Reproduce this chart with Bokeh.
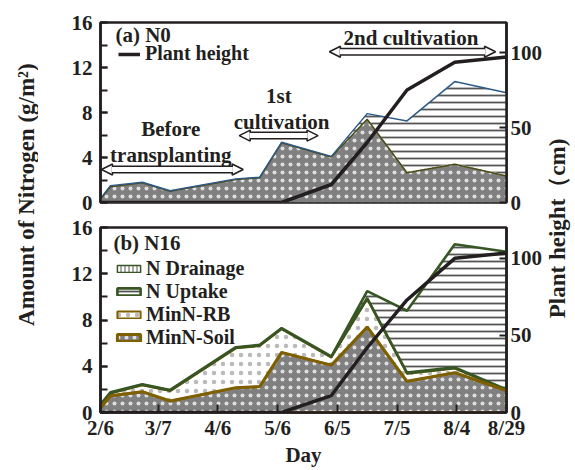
import numpy as np
from math import pi
from bokeh.plotting import figure
from bokeh.layouts import row, column
from bokeh.models import (Range1d, LinearAxis, FixedTicker, SingleIntervalTicker, Label,
                          Legend, LegendItem, Arrow, NormalHead)
from bokeh.embed import file_html
from bokeh.resources import INLINE

# ---------------- data ----------------
days = [0, 5, 21, 35, 68, 80, 91, 116, 134, 154, 178, 204]
tick_days = [0, 29, 59, 89, 119, 149, 179, 204]
tick_labels = ["2/6", "3/7", "4/6", "5/6", "6/5", "7/5", "8/4", "8/29"]
height_ticks = [0, 50, 100]

# (a) N0  (g/m2)
soil_a = [0.3, 1.4, 1.75, 1.0, 2.05, 2.2, 5.3, 4.05, 7.4, 2.65, 3.4, 2.35]
rb_a = [0, 0, 0, 0, 0, 0, 0, 0, 0, 0, 0, 0]
drain_a = [0.05, 0.1, 0.05, 0.05, 0.05, 0.05, 0.05, 0.05, 0.1, 0.1, 0.1, 0.1]
uptake_a = [0, 0, 0, 0, 0, 0, 0, 0, 0.4, 4.5, 7.25, 7.3]
height_a = [0, 0, 0, 0, 0, 0, 0, 12, 40, 75, 93.5, 97]

# (b) N16  (g/m2)
soil_b = [0.4, 1.45, 1.8, 1.0, 2.15, 2.25, 5.2, 4.1, 7.4, 2.7, 3.45, 1.9]
rb_b = [0.25, 0.2, 0.55, 0.85, 3.4, 3.5, 2.0, 0.65, 2.4, 0.65, 0.35, 0.05]
drain_b = [0.05, 0.1, 0.1, 0.1, 0.1, 0.1, 0.1, 0.1, 0.1, 0.1, 0.1, 0.05]
uptake_b = [0, 0, 0, 0, 0, 0, 0, 0, 0.6, 5.35, 10.65, 11.9]
height_b = [0, 0, 0, 0, 0, 0, 0, 11, 42, 73, 100, 103.5]

FONT = "Liberation Serif"
INK = "#231f20"
GREEN = "#375623"
BROWN = "#7f6000"
GRAY = "#808080"
HATCH = "#555555"

SOIL_HATCH = dict(fill_color=GRAY, hatch_pattern="dot", hatch_color="white",
                  hatch_scale=8, hatch_weight=0.5, hatch_alpha=0.75)
RB_HATCH = dict(fill_color="white", hatch_pattern="dot", hatch_color="#666666",
                hatch_scale=9, hatch_weight=0.5, hatch_alpha=0.45)
DR_HATCH = dict(fill_color="white", hatch_pattern="vertical_line",
                hatch_color=HATCH, hatch_scale=4, hatch_weight=1)
UP_HATCH = dict(fill_color="white", hatch_pattern="horizontal_line",
                hatch_color=HATCH, hatch_scale=7, hatch_weight=1.8)


def stack(*layers):
    out = [np.zeros(len(days))]
    for l in layers:
        out.append(out[-1] + np.array(l, dtype=float))
    return out


def style_axis(ax, standoff):
    ax.axis_line_width = 2.5
    ax.axis_line_color = INK
    ax.major_tick_out = 0
    ax.major_tick_line_width = 2
    ax.major_tick_line_color = INK
    ax.major_label_standoff = standoff
    ax.major_label_text_font = FONT
    ax.major_label_text_font_style = "bold"
    ax.major_label_text_font_size = "21px"
    ax.major_label_text_color = INK


def base_fig(h, mbt, mbb, show_x):
    p = figure(width=507, height=h, x_range=Range1d(0, 204), y_range=Range1d(0, 16),
               toolbar_location=None, output_backend="svg",
               min_border_left=62, min_border_right=38, min_border_top=mbt,
               min_border_bottom=mbb)
    p.grid.visible = False
    p.outline_line_color = INK
    p.outline_line_width = 2.5
    p.extra_y_ranges = {"h": Range1d(0, 120)}

    ya = p.yaxis[0]
    ya.ticker = SingleIntervalTicker(interval=4, num_minor_ticks=2)
    style_axis(ya, 8)
    ya.major_tick_in = 7
    ya.minor_tick_in = 7
    ya.minor_tick_out = 0
    ya.minor_tick_line_width = 2
    ya.minor_tick_line_color = INK

    xa = p.xaxis[0]
    if show_x:
        xa.ticker = FixedTicker(ticks=tick_days, minor_ticks=[])
        xa.major_label_overrides = {d: l for d, l in zip(tick_days, tick_labels)}
        style_axis(xa, 3)
        xa.major_tick_in = 8
        xa.axis_label = "Day"
        xa.axis_label_standoff = 0
        xa.axis_label_text_font = FONT
        xa.axis_label_text_font_style = "bold"
        xa.axis_label_text_font_size = "21px"
        xa.axis_label_text_color = INK
    else:
        xa.visible = False
        # inward tick marks on the bottom edge of the upper panel
        p.segment(x0=tick_days, y0=[0] * len(tick_days), x1=tick_days,
                  y1=[0.7] * len(tick_days), line_color=INK, line_width=2)

    ra = LinearAxis(y_range_name="h", ticker=FixedTicker(ticks=height_ticks, minor_ticks=[]))
    style_axis(ra, 4)
    ra.major_tick_in = 7
    p.add_layout(ra, "right")
    return p


def text(p, x, y, t, align="center", size="21px"):
    p.add_layout(Label(x=x, y=y, text=t, text_align=align, text_baseline="middle",
                       text_font=FONT, text_font_style="bold", text_font_size=size,
                       text_color=INK))


def hollow_arrow(p, x0, x1, y):
    size = 11
    hl = size / 1.995
    p.add_layout(Arrow(x_start=x0, y_start=y, x_end=x1, y_end=y,
                       start=NormalHead(size=size, fill_color="white", line_color=INK, line_width=1.5),
                       end=NormalHead(size=size, fill_color="white", line_color=INK, line_width=1.5),
                       line_width=8, line_color=INK))
    p.add_layout(Arrow(x_start=x0 + hl - 0.3, y_start=y, x_end=x1 - hl + 0.3, y_end=y,
                       start=None, end=None, line_width=5, line_color="white"))


LEG_TEXT = dict(background_fill_alpha=0, border_line_alpha=0, padding=0, margin=0, spacing=0,
                label_text_font=FONT, label_text_font_style="bold",
                label_text_font_size="20px", label_text_color=INK)

# ---------------- panel (a) ----------------
pa = base_fig(215, 22, 13, False)
a0, a1, a2, a3, a4 = stack(soil_a, rb_a, drain_a, uptake_a)
pa.varea(x=days, y1=a0, y2=a1, **SOIL_HATCH)
pa.varea(x=days, y1=a2, y2=a3, **DR_HATCH)
pa.varea(x=days, y1=a3, y2=a4, **UP_HATCH)
pa.line(x=days, y=a1, line_color="#4b4b14", line_width=1.5)
pa.line(x=days, y=a4, line_color="#2e5a87", line_width=1.5)
ha = pa.line(x=days, y=height_a, y_range_name="h", line_color=INK, line_width=3.5)
text(pa, 7.5, 14.9, "(a) N0", "left")
text(pa, 35.3, 6.5, "Before")
text(pa, 35.3, 4.25, "transplanting")
text(pa, 89.6, 9.5, "1st")
text(pa, 91, 7.2, "cultivation")
text(pa, 156, 14.65, "2nd cultivation")
hollow_arrow(pa, 0.5, 71.7, 2.93)
hollow_arrow(pa, 69.7, 109.3, 5.95)
hollow_arrow(pa, 115, 198.5, 13.4)
pa.add_layout(Legend(items=[LegendItem(label="Plant height", renderers=[ha])],
                     location=(18, 137), glyph_width=22, glyph_height=22, label_height=22,
                     label_standoff=5, **LEG_TEXT))

# ---------------- panel (b) ----------------
pb = base_fig(254, 12, 57, True)
b0, b1, b2, b3, b4 = stack(soil_b, rb_b, drain_b, uptake_b)
xs = list(days) + list(days)[::-1]
r_so = pb.patch(x=xs, y=list(b1) + list(b0)[::-1], line_color=BROWN, line_width=3, **SOIL_HATCH)
r_rb = pb.patch(x=xs, y=list(b2) + list(b1)[::-1], line_color=BROWN, line_width=2, **RB_HATCH)
r_dr = pb.patch(x=xs, y=list(b3) + list(b2)[::-1], line_color=GREEN, line_width=1.5, **DR_HATCH)
r_up = pb.patch(x=xs, y=list(b4) + list(b3)[::-1], line_color=GREEN, line_width=2.6, **UP_HATCH)
pb.line(x=days, y=b1, line_color=BROWN, line_width=3)
pb.line(x=days, y=height_b, y_range_name="h", line_color=INK, line_width=3.5)
text(pb, 6.5, 14.7, "(b) N16", "left")
pb.add_layout(Legend(items=[LegendItem(label="N Drainage", renderers=[r_dr]),
                            LegendItem(label="N Uptake", renderers=[r_up]),
                            LegendItem(label="MinN-RB", renderers=[r_rb]),
                            LegendItem(label="MinN-Soil", renderers=[r_so])],
                     location=(14, 63.5), glyph_width=29, glyph_height=9, label_height=22,
                     label_standoff=3, **LEG_TEXT))


# ---------------- side labels ----------------
def label_fig(w, t, x, y):
    f = figure(width=w, height=469, x_range=Range1d(0, 1), y_range=Range1d(0, 1),
               toolbar_location=None, output_backend="svg", x_axis_type=None,
               y_axis_type=None, min_border=0, outline_line_color=None)
    f.grid.visible = False
    f.add_layout(Label(x=x, y=y, text=t, angle=pi / 2, text_align="center",
                       text_baseline="middle", text_font=FONT, text_font_style="bold",
                       text_font_size="23px", text_color=INK))
    return f


left = label_fig(38, "Amount of Nitrogen (g/m²)", 0.684, 0.586)
right = label_fig(28, "Plant height（cm)", 0.43, 0.514)

layout = row(left, column(pa, pb), right)
open("out.html", "w").write(file_html(layout, INLINE))
